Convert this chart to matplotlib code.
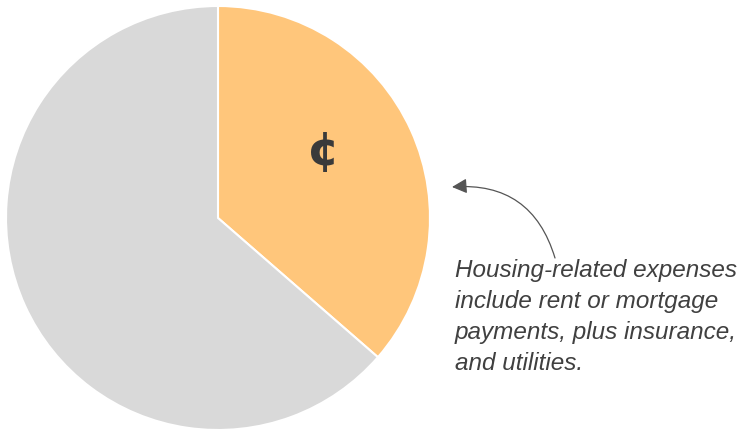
import matplotlib
matplotlib.use("Agg")
import matplotlib.pyplot as plt

# Share of spending: housing vs everything else
labels = ["Housing", "Other"]
shares = [36.4, 63.6]
colors = ["#FFC67B", "#D9D9D9"]
note = ("Housing-related expenses\ninclude rent or mortgage\n"
        "payments, plus insurance,\nand utilities.")

W, H = 741, 430
fig = plt.figure(figsize=(W / 100, H / 100), dpi=100)

# pie axes: center (218, 218), radius ~212 px
cx, cy, r = 218, 218, 212
ax = fig.add_axes([(cx - r) / W, (H - cy - r) / H, 2 * r / W, 2 * r / H])
ax.pie(shares, colors=colors, startangle=90, counterclock=False,
       radius=1.0, wedgeprops=dict(edgecolor="white", linewidth=1.5))
ax.set_xlim(-1, 1)
ax.set_ylim(-1, 1)
ax.set_aspect("equal")
ax.axis("off")

# cent symbol in the housing slice
fig.text(323 / W, 1 - 153 / H, "\u00a2", fontsize=34, color="#3a3a3a",
         ha="center", va="center", family="DejaVu Sans", fontweight="bold")

# annotation text + curved arrow
fig.text(455 / W, 1 - 259 / H, note, fontsize=17.5, style="italic",
         color="#404040", family="Liberation Sans", ha="left", va="top",
         linespacing=1.45)

fig.patches.append(matplotlib.patches.FancyArrowPatch(
    (555 / W, 1 - 258 / H), (452 / W, 1 - 187 / H),
    transform=fig.transFigure, connectionstyle="arc3,rad=0.4",
    arrowstyle="-|>,head_length=6,head_width=3", color="#555555",
    linewidth=0.9, mutation_scale=1.5, shrinkA=0, shrinkB=0))

fig.savefig("out.png", dpi=100)
